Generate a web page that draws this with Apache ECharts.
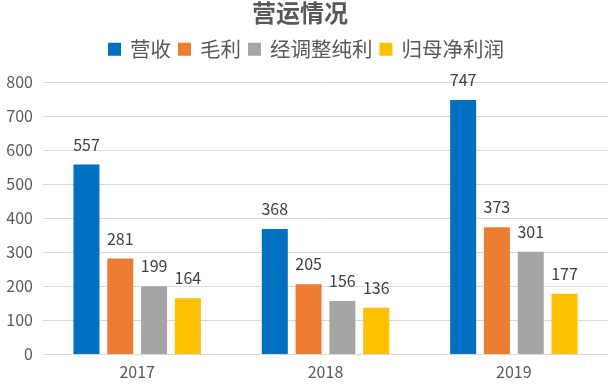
<!DOCTYPE html>
<html><head><meta charset="utf-8">
<script src="https://cdn.jsdelivr.net/npm/echarts@6/dist/echarts.min.js"></script>
<style>html,body{margin:0;padding:0;background:#fff}#c{width:612px;height:384px}</style>
</head><body><div id="c"></div>
<script>
var categories = ['2017', '2018', '2019'];
var seriesNames = ['营收', '毛利', '经调整纯利', '归母净利润'];
var revenue = [557, 368, 747];
var grossProfit = [281, 205, 373];
var adjNetProfit = [199, 156, 301];
var netProfitParent = [164, 136, 177];
var yTicks = [0, 100, 200, 300, 400, 500, 600, 700, 800];
var colors = ['#0070C0', '#ED7D31', '#A5A5A5', '#FFC000'];
var font = '"Noto Sans CJK SC", "Microsoft YaHei", sans-serif';
var values = [revenue, grossProfit, adjNetProfit, netProfitParent];
var chart = echarts.init(document.getElementById('c'));
chart.setOption({
  animation: false,
  title: { text: '营运情况', left: 252, top: 1, padding: 0, textStyle: { fontFamily: font, fontSize: 24, fontWeight: 'bold', color: '#595959' } },
  legend: { top: 39, left: 'center', padding: 0, itemWidth: 13, itemHeight: 13, itemGap: 7, icon: 'rect',
    textStyle: { fontFamily: font, fontSize: 20.5, color: '#595959', padding: [0, 0, 0, 4] },
    data: seriesNames },
  grid: { left: 43, right: 4, top: 82, bottom: 30, containLabel: false },
  xAxis: { type: 'category', data: categories, axisTick: { show: false },
    axisLine: { lineStyle: { color: '#D9D9D9' } },
    axisLabel: { fontFamily: font, fontSize: 16, color: '#595959', margin: 10 } },
  yAxis: { type: 'value', min: yTicks[0], max: yTicks[yTicks.length - 1], interval: 100,
    axisLine: { show: false }, axisTick: { show: false },
    splitLine: { lineStyle: { color: '#D9D9D9' } },
    axisLabel: { fontFamily: font, fontSize: 16, color: '#595959', margin: 10 } },
  series: seriesNames.map(function (n, i) {
    return { name: n, type: 'bar', data: values[i], barWidth: 26, barGap: '30%',
      itemStyle: { color: colors[i] },
      label: { show: true, position: 'top', distance: 12, fontFamily: font, fontSize: 16, color: '#404040' } };
  })
});
</script></body></html>
